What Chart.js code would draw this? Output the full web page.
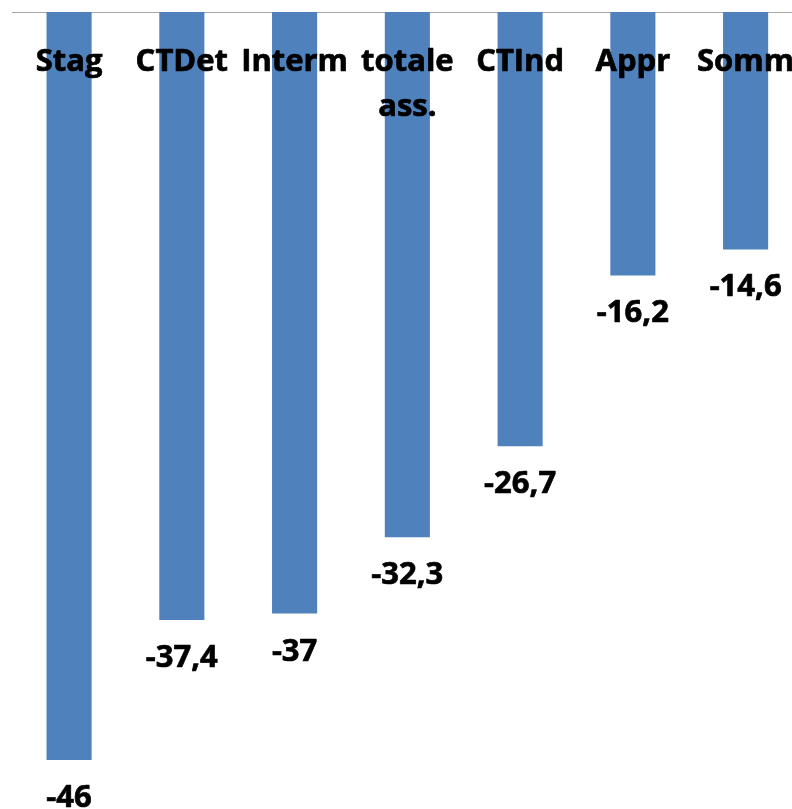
<!DOCTYPE html>
<html>
<head>
<meta charset="utf-8">
<script src="https://cdn.jsdelivr.net/npm/chart.js@4/dist/chart.umd.min.js"></script>
<style>
  html, body { margin: 0; padding: 0; background: #ffffff; overflow: hidden; width: 792px; height: 809px; }
  #wrap { position: absolute; left: 0; top: 0; width: 802px; height: 826px; }
</style>
</head>
<body>
<div id="wrap"><canvas id="c" width="802" height="826"></canvas></div>
<script>
const categories = ['Stag', 'CTDet', 'Interm', ['totale', 'ass.'], 'CTInd', 'Appr', 'Somm'];
const values = [-46, -37.4, -37, -32.3, -26.7, -16.2, -14.6];
const yMin = -50;
const yMax = 0;

const FONT = 'bold 31px "Open Sans", "Liberation Sans", sans-serif';

const labelPlugin = {
  id: 'labelPlugin',
  afterDatasetsDraw(chart) {
    const ctx = chart.ctx;
    const xs = chart.scales.x;
    const meta = chart.getDatasetMeta(0);
    ctx.save();
    ctx.font = FONT;
    ctx.fillStyle = '#000000';
    ctx.strokeStyle = '#000000';
    ctx.lineWidth = 0.7;
    ctx.lineJoin = 'round';
    ctx.textAlign = 'center';
    ctx.textBaseline = 'alphabetic';
    const put = (t, x, y) => { ctx.fillText(t, x, y); ctx.strokeText(t, x, y); };
    // category labels (inside plot, under the top axis)
    categories.forEach((cat, i) => {
      const x = xs.getPixelForValue(i);
      const lines = Array.isArray(cat) ? cat : [cat];
      lines.forEach((ln, k) => {
        put(ln, x, chart.chartArea.top + 59 + k * 45);
      });
    });
    // value labels below each bar
    meta.data.forEach((bar, i) => {
      const txt = String(values[i]).replace('.', ',');
      put(txt, bar.x, bar.y + 47);
    });
    ctx.restore();
  }
};

new Chart(document.getElementById('c'), {
  type: 'bar',
  data: {
    labels: categories,
    datasets: [{
      data: values,
      backgroundColor: '#4f81bd',
      borderWidth: 0,
      barPercentage: 0.4,
      categoryPercentage: 1.0
    }]
  },
  options: {
    responsive: false,
    devicePixelRatio: 1,
    animation: false,
    layout: { padding: { left: 12.7, right: 0, top: 4, bottom: 1 } },
    plugins: { legend: { display: false }, tooltip: { enabled: false } },
    scales: {
      x: {
        position: 'top',
        grid: { display: false },
        ticks: { display: false },
        border: { display: true, color: '#a6a6a6', width: 1 }
      },
      y: {
        display: false,
        min: yMin,
        max: yMax
      }
    }
  },
  plugins: [labelPlugin]
});
</script>
</body>
</html>
